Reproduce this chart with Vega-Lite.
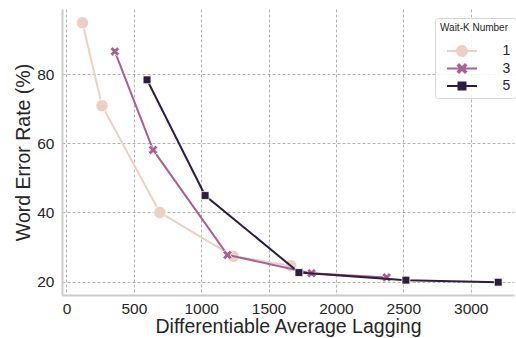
{
  "$schema": "https://vega.github.io/schema/vega-lite/v6.json",
  "width": 452,
  "height": 286,
  "autosize": {"type": "none"},
  "padding": {"left": 62, "top": 9, "right": 2, "bottom": 43},
  "background": "white",
  "config": {
    "view": {"stroke": null},
    "font": "Liberation Sans",
    "axis": {
      "domainColor": "#cccccc",
      "domainWidth": 2,
      "gridColor": "#a0a0a0",
      "gridDash": [3, 2],
      "gridWidth": 0.8,
      "ticks": false,
      "labelFont": "Liberation Sans",
      "labelFontSize": 15.5,
      "labelColor": "#262626",
      "titleFont": "Liberation Sans",
      "titleFontSize": 19.5,
      "titleFontWeight": "normal",
      "titleColor": "#262626"
    }
  },
  "data": {
    "values": [
      {"k": "1", "dal": 119, "wer": 94.9},
      {"k": "1", "dal": 264, "wer": 70.9},
      {"k": "1", "dal": 693, "wer": 40.0},
      {"k": "1", "dal": 1237, "wer": 27.3},
      {"k": "1", "dal": 1665, "wer": 24.6},
      {"k": "3", "dal": 359, "wer": 86.6},
      {"k": "3", "dal": 643, "wer": 58.1},
      {"k": "3", "dal": 1195, "wer": 27.7},
      {"k": "3", "dal": 1819, "wer": 22.4},
      {"k": "3", "dal": 2376, "wer": 21.2},
      {"k": "5", "dal": 598, "wer": 78.4},
      {"k": "5", "dal": 1029, "wer": 44.9},
      {"k": "5", "dal": 1725, "wer": 22.6},
      {"k": "5", "dal": 2519, "wer": 20.4},
      {"k": "5", "dal": 3204, "wer": 19.8}
    ]
  },
  "encoding": {
    "x": {
      "field": "dal", "type": "quantitative",
      "scale": {"domain": [-33, 3321], "nice": false, "zero": false},
      "axis": {"values": [0, 500, 1000, 1500, 2000, 2500, 3000], "format": "d", "title": "Differentiable Average Lagging", "labelPadding": 6, "titlePadding": 1, "labelFlush": false}
    },
    "y": {
      "field": "wer", "type": "quantitative",
      "scale": {"domain": [16.1, 98.9], "nice": false, "zero": false},
      "axis": {"values": [20, 40, 60, 80], "title": "Word Error Rate (%)", "labelPadding": 8, "titlePadding": 3, "labelFlush": false}
    },
    "color": {
      "field": "k", "type": "nominal",
      "scale": {"domain": ["1", "3", "5"], "range": ["#ecd0c6", "#a8628f", "#2d1e3e"]},
      "legend": {
        "title": "Wait-K Number", "orient": "none", "legendX": 373, "legendY": 9,
        "titleFontSize": 10, "titleFontWeight": "normal", "titleColor": "#262626", "titleFont": "Liberation Sans", "titlePadding": 8,
        "labelFontSize": 14, "labelColor": "#262626", "labelFont": "Liberation Sans",
        "padding": 5, "cornerRadius": 3, "strokeColor": "#d6d6d6", "fillColor": "rgba(255,255,255,0.85)",
        "symbolSize": 400, "symbolOffset": 12, "labelOffset": 30.5, "rowPadding": 0.5,
        "encode": {"symbols": {"update": {
          "shape": {"signal": "datum.value === '1' ? 'M-1.5,-0.1H1.5V0.1H-1.5Z M-0.6,0A0.6,0.6 0 1,1 0.6,0A0.6,0.6 0 1,1 -0.6,0Z' : datum.value === '3' ? 'M-1.5,-0.1H1.5V0.1H-1.5Z M-0.55,-0.3L-0.3,-0.55L0,-0.25L0.3,-0.55L0.55,-0.3L0.25,0L0.55,0.3L0.3,0.55L0,0.25L-0.3,0.55L-0.55,0.3L-0.25,0Z' : 'M-1.5,-0.1H1.5V0.1H-1.5Z M-0.45,-0.45H0.45V0.45H-0.45Z'"},
          "fill": {"scale": "color", "field": "value"},
          "strokeWidth": {"value": 0},
          "opacity": {"value": 1}
        }}}
      }
    }
  },
  "layer": [
    {"transform": [{"filter": "datum.k === '1'"}], "mark": {"type": "line", "strokeWidth": 2}},
    {"transform": [{"filter": "datum.k === '1'"}], "mark": {"type": "point", "filled": true, "opacity": 1, "size": 150, "stroke": "white", "strokeWidth": 0.75},
     "encoding": {"shape": {"field": "k", "type": "nominal", "scale": {"domain": ["5", "3", "1"], "range": ["M-0.64,-0.64H0.64V0.64H-0.64Z", "M-0.78,-0.38L-0.38,-0.78L0,-0.4L0.38,-0.78L0.78,-0.38L0.4,0L0.78,0.38L0.38,0.78L0,0.4L-0.38,0.78L-0.78,0.38L-0.4,0Z", "circle"]}, "legend": null}}},
    {"transform": [{"filter": "datum.k === '3'"}], "mark": {"type": "line", "strokeWidth": 2}},
    {"transform": [{"filter": "datum.k === '3'"}], "mark": {"type": "point", "filled": true, "opacity": 1, "size": 150, "stroke": "white", "strokeWidth": 0.75},
     "encoding": {"shape": {"field": "k", "type": "nominal", "scale": {"domain": ["5", "3", "1"], "range": ["M-0.64,-0.64H0.64V0.64H-0.64Z", "M-0.78,-0.38L-0.38,-0.78L0,-0.4L0.38,-0.78L0.78,-0.38L0.4,0L0.78,0.38L0.38,0.78L0,0.4L-0.38,0.78L-0.78,0.38L-0.4,0Z", "circle"]}, "legend": null}}},
    {"transform": [{"filter": "datum.k === '5'"}], "mark": {"type": "line", "strokeWidth": 2}},
    {"transform": [{"filter": "datum.k === '5'"}], "mark": {"type": "point", "filled": true, "opacity": 1, "size": 150, "stroke": "white", "strokeWidth": 0.75},
     "encoding": {"shape": {"field": "k", "type": "nominal", "scale": {"domain": ["5", "3", "1"], "range": ["M-0.64,-0.64H0.64V0.64H-0.64Z", "M-0.78,-0.38L-0.38,-0.78L0,-0.4L0.38,-0.78L0.78,-0.38L0.4,0L0.78,0.38L0.38,0.78L0,0.4L-0.38,0.78L-0.78,0.38L-0.4,0Z", "circle"]}, "legend": null}}}
  ]
}
